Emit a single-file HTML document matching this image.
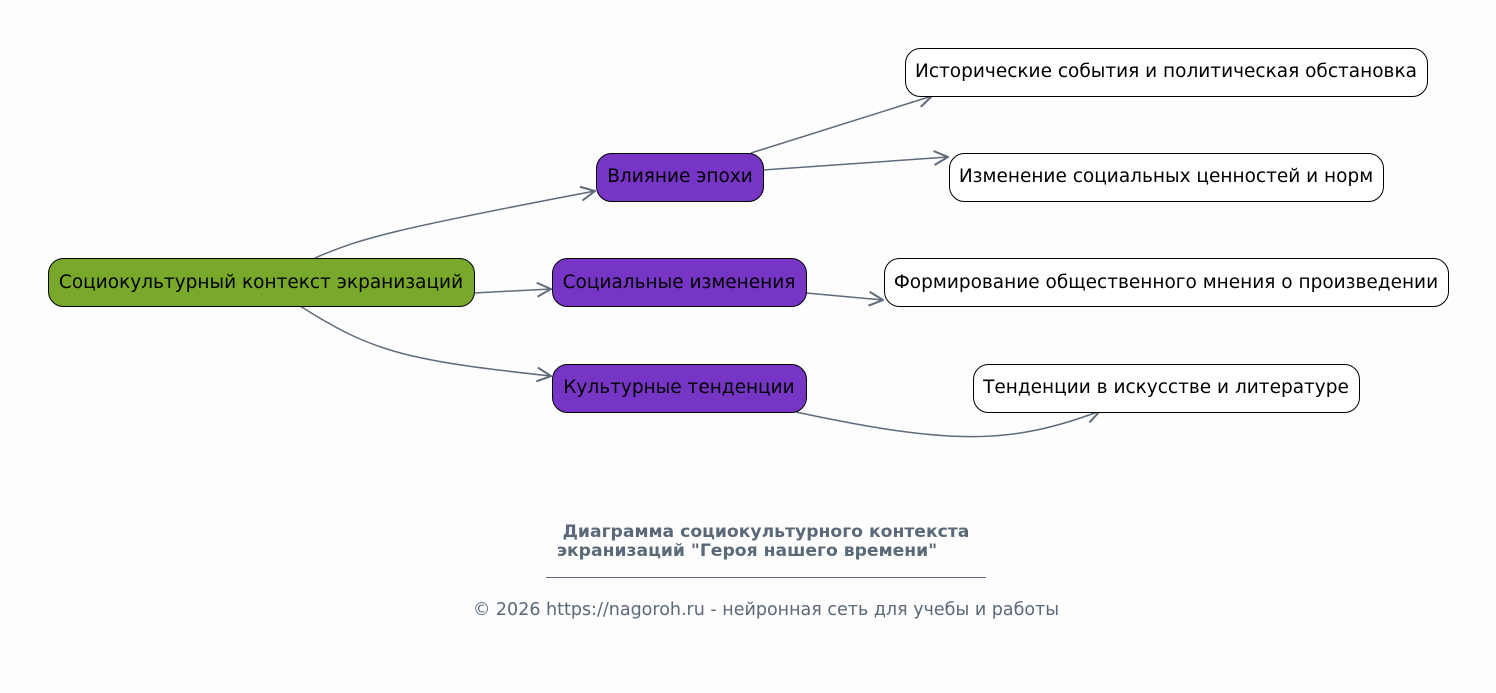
<!DOCTYPE html>
<html><head><meta charset="utf-8"><style>
html,body{margin:0;padding:0;background:#fdfdfd;}
svg{display:block;font-family:"DejaVu Sans","Liberation Sans",sans-serif;}
</style></head><body>
<svg width="1496" height="693" viewBox="0 0 1496 693" xmlns="http://www.w3.org/2000/svg">
<defs>
<marker id="a" viewBox="0 0 16 16" refX="15" refY="8" markerWidth="16" markerHeight="16" markerUnits="userSpaceOnUse" orient="auto">
<path d="M1,1 L15,8 L1,15" fill="none" stroke="#5f6b7a" stroke-width="2"/>
</marker>
</defs>
<rect width="1496" height="693" fill="#fdfdfd"/>
<g fill="none" stroke="#5f6b7a" stroke-width="1.5" marker-end="url(#a)">
<path d="M315,258 C360,238 400,228 595,191"/>
<path d="M474,293 L551,289"/>
<path d="M300,306 C370,350 400,360 551,376"/>
<path d="M751,153 L932,96"/>
<path d="M763,170 L948,157"/>
<path d="M806,293 L883,300"/>
<path d="M796,412 C950,445 1010,445 1100,411"/>
</g>
<g stroke="#000" stroke-width="1">
<rect x="48.5" y="258.5" width="426" height="48" rx="15" fill="#78a92a"/>
<rect x="596.5" y="153.5" width="167" height="48" rx="15" fill="#7635c4"/>
<rect x="552.5" y="258.5" width="254" height="48" rx="15" fill="#7635c4"/>
<rect x="552.5" y="364.5" width="254" height="48" rx="15" fill="#7635c4"/>
<rect x="905.5" y="48.5" width="522" height="48" rx="15" fill="#fff"/>
<rect x="949.5" y="153.5" width="434" height="48" rx="15" fill="#fff"/>
<rect x="884.5" y="258.5" width="564" height="48" rx="15" fill="#fff"/>
<rect x="973.5" y="364.5" width="386" height="48" rx="15" fill="#fff"/>
</g>
<g font-size="18.5" fill="#000" text-anchor="middle">
<text x="261" y="288">Социокультурный контекст экранизаций</text>
<text x="680" y="182">Влияние эпохи</text>
<text x="679" y="288">Социальные изменения</text>
<text x="679" y="393">Культурные тенденции</text>
<text x="1166" y="77">Исторические события и политическая обстановка</text>
<text x="1166" y="182">Изменение социальных ценностей и норм</text>
<text x="1166" y="288">Формирование общественного мнения о произведении</text>
<text x="1166" y="393">Тенденции в искусстве и литературе</text>
</g>
<g fill="#5a6878" font-size="17.2" font-weight="bold" text-anchor="middle">
<text x="766" y="537">Диаграмма социокультурного контекста</text>
<text x="747" y="556">экранизаций "Героя нашего времени"</text>
</g>
<line x1="546" y1="577.5" x2="986" y2="577.5" stroke="#5f6b7a" stroke-width="1"/>
<text x="766" y="615" fill="#5a6878" font-size="17.5" text-anchor="middle">© 2026 https://nagoroh.ru - нейронная сеть для учебы и работы</text>
</svg>
</body></html>
